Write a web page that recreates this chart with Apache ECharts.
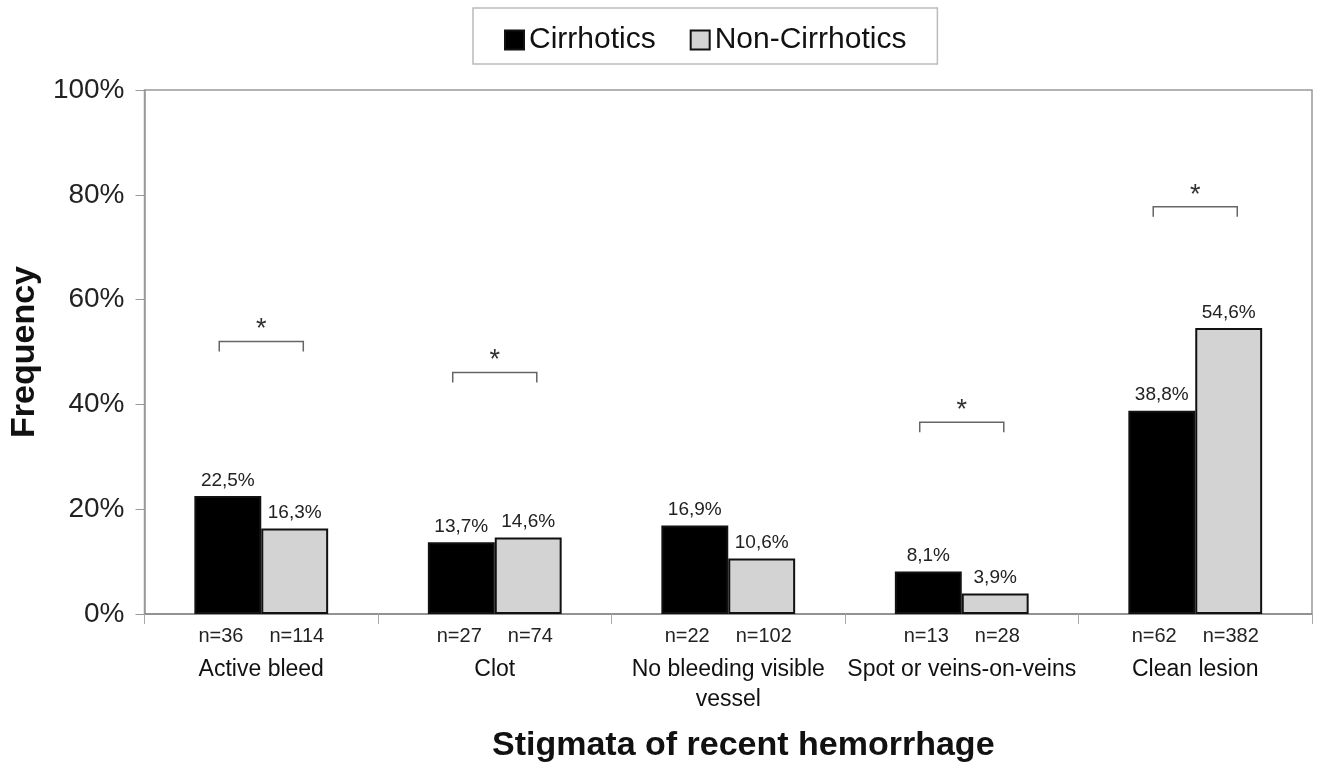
<!DOCTYPE html>
<html>
<head>
<meta charset="utf-8">
<script src="https://cdn.jsdelivr.net/npm/echarts@6/dist/echarts.min.js"></script>
<style>
  html, body { margin: 0; padding: 0; background: #fff; }
  #chart { width: 1320px; height: 768px; }
</style>
</head>
<body>
<div id="chart"></div>
<script>
// ---- data ----
const categories = ['Active bleed', 'Clot', 'No bleeding visible\nvessel', 'Spot or veins-on-veins', 'Clean lesion'];
const cirrhotics = [22.5, 13.7, 16.9, 8.1, 38.8];
const nonCirrhotics = [16.3, 14.6, 10.6, 3.9, 54.6];
const nCirrhotics = ['n=36', 'n=27', 'n=22', 'n=13', 'n=62'];
const nNonCirrhotics = ['n=114', 'n=74', 'n=102', 'n=28', 'n=382'];
// significance brackets: [category index, bracket level (%)]
const brackets = [[0, 52.0], [1, 46.1], [3, 36.6], [4, 77.7]];
const yTicks = [0, 20, 40, 60, 80, 100];

const FONT = "'Liberation Sans', Arial, Helvetica, sans-serif";
const fmtPct = v => v.toFixed(1).replace('.', ',') + '%';

const chart = echarts.init(document.getElementById('chart'), null, { renderer: 'canvas' });

const barLabel = {
  show: true,
  position: 'top',
  distance: 6,
  fontFamily: FONT,
  fontSize: 19,
  color: '#222',
  formatter: p => fmtPct(p.value)
};

chart.setOption({
  animation: false,
  backgroundColor: '#fff',
  textStyle: { fontFamily: FONT },
  legend: {
    data: ['Cirrhotics', 'Non-Cirrhotics'],
    left: 473,
    top: 8,
    padding: [17, 31, 9, 31],
    borderColor: '#bbb',
    borderWidth: 1.5,
    itemWidth: 19,
    itemHeight: 19,
    itemGap: 34,
    icon: 'rect',
    textStyle: { fontFamily: FONT, fontSize: 30, color: '#111' }
  },
  grid: {
    left: 142,
    right: 8,
    top: 90,
    bottom: 151,
    show: true,
    borderColor: '#999',
    borderWidth: 1.5,
    containLabel: false
  },
  xAxis: {
    type: 'category',
    data: categories,
    name: 'Stigmata of recent hemorrhage',
    nameLocation: 'middle',
    nameGap: 115,
    nameTextStyle: { fontFamily: FONT, fontSize: 34, fontWeight: 'bold', color: '#111', padding: [0, 0, 0, 30] },
    axisLine: { show: true, lineStyle: { color: '#888', width: 1.5 } },
    axisTick: { show: true, length: 10, lineStyle: { color: '#aaa', width: 1 } },
    axisLabel: {
      interval: 0,
      margin: 9,
      formatter: (value, idx) =>
        '{n|' + nCirrhotics[idx] + '}{n|' + nNonCirrhotics[idx] + '}\n{g| }\n{c|' + value + '}',
      rich: {
        n: { fontFamily: FONT, fontSize: 20, color: '#222', lineHeight: 26, padding: [0, 13, 0, 13] },
        g: { fontSize: 1, lineHeight: 6 },
        c: { fontFamily: FONT, fontSize: 23, color: '#111', lineHeight: 30 }
      }
    }
  },
  yAxis: {
    type: 'value',
    min: 0,
    max: 100,
    interval: 20,
    name: 'Frequency',
    nameLocation: 'middle',
    nameGap: 84,
    nameTextStyle: { fontFamily: FONT, fontSize: 34, fontWeight: 'bold', color: '#111' },
    axisLine: { show: true, lineStyle: { color: '#999', width: 1.5 } },
    axisTick: { show: true, length: 9, lineStyle: { color: '#999', width: 1 } },
    splitLine: { show: false },
    axisLabel: {
      margin: 20,
      fontFamily: FONT,
      fontSize: 28,
      color: '#222',
      formatter: v => (yTicks.indexOf(v) >= 0 ? v + '%' : '')
    }
  },
  series: [
    {
      name: 'Cirrhotics',
      type: 'bar',
      data: cirrhotics,
      barGap: '0%',
      barCategoryGap: '42.7%',
      itemStyle: { color: '#000', borderColor: '#111', borderWidth: 2 },
      label: barLabel
    },
    {
      name: 'Non-Cirrhotics',
      type: 'bar',
      data: nonCirrhotics,
      itemStyle: { color: '#d3d3d3', borderColor: '#111', borderWidth: 2 },
      label: barLabel
    },
    {
      name: 'sig',
      type: 'custom',
      data: brackets,
      z: 5,
      silent: true,
      renderItem: (params, api) => {
        const p = api.coord([api.value(0), api.value(1)]);
        const band = api.size([1, 0])[0];
        const hw = band * 0.18;
        const x = p[0], y = p[1];
        return {
          type: 'group',
          children: [
            {
              type: 'polyline',
              shape: { points: [[x - hw, y + 10], [x - hw, y], [x + hw, y], [x + hw, y + 10]] },
              style: { stroke: '#666', lineWidth: 1.5, fill: null }
            },
            {
              type: 'text',
              style: {
                x: x, y: y + 2, text: '*', align: 'center', verticalAlign: 'bottom',
                fontFamily: FONT, fontSize: 27, fill: '#333'
              }
            }
          ]
        };
      }
    }
  ]
});
</script>
</body>
</html>
